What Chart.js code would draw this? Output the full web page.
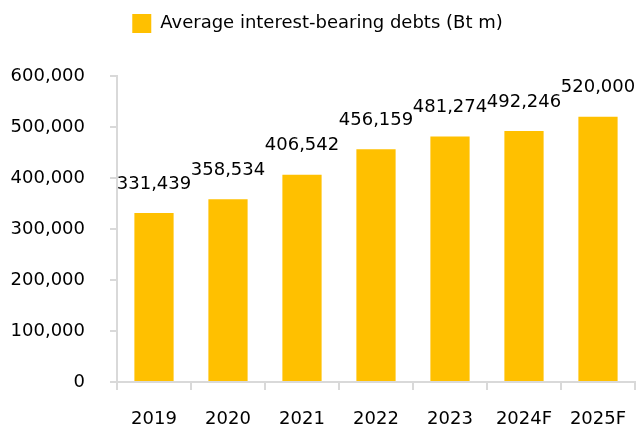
<!DOCTYPE html>
<html>
<head>
<meta charset="utf-8">
<script src="https://cdn.jsdelivr.net/npm/chart.js@4"></script>
<style>
  body { margin: 0; background: #fff; }
  #wrap { width: 642px; height: 430px; }
</style>
</head>
<body>
<div id="wrap"><canvas id="debtChart" width="642" height="430"></canvas></div>
<script>
// chart data
const years = ['2019', '2020', '2021', '2022', '2023', '2024F', '2025F'];
const avgDebts = [331439, 358534, 406542, 456159, 481274, 492246, 520000];
const seriesName = 'Average interest-bearing debts (Bt m)';
const yTicks = [0, 100000, 200000, 300000, 400000, 500000, 600000];

const fontFamily = "'DejaVu Sans', sans-serif";
const axisGray = '#d9d9d9';

// push the plot area down below the legend
const legendGap = {
    id: 'legendGap',
    beforeInit(chart) {
        const fit = chart.legend.fit;
        chart.legend.fit = function () {
            fit.call(this);
            this.height = 76;
        };
    }
};

// value labels above each bar
const barLabels = {
    id: 'barLabels',
    afterDatasetsDraw(chart) {
        const ctx = chart.ctx;
        const meta = chart.getDatasetMeta(0);
        ctx.save();
        ctx.font = '18px ' + fontFamily;
        ctx.fillStyle = '#000';
        ctx.textAlign = 'center';
        ctx.textBaseline = 'middle';
        meta.data.forEach((bar, i) => {
            ctx.fillText(avgDebts[i].toLocaleString('en-US'), bar.x, bar.y - 29);
        });
        ctx.restore();
    }
};

new Chart(document.getElementById('debtChart'), {
    type: 'bar',
    data: {
        labels: years,
        datasets: [{
            label: seriesName,
            data: avgDebts,
            backgroundColor: '#FFC000',
            barPercentage: 0.53,
            categoryPercentage: 1
        }]
    },
    options: {
        responsive: false,
        animation: false,
        layout: { padding: { left: 0, right: 7, top: 0, bottom: 0 } },
        scales: {
            x: {
                grid: {
                    display: true,
                    drawOnChartArea: false,
                    drawTicks: true,
                    tickLength: 8,
                    color: axisGray,
                    lineWidth: 2,
                    offset: true
                },
                border: { display: true, color: axisGray, width: 2 },
                ticks: {
                    color: '#000',
                    font: { family: fontFamily, size: 18 },
                    padding: 19,
                    maxRotation: 0
                },
                afterFit(axis) {
                    axis.height = 48;
                    axis.paddingLeft = 0;
                    axis.paddingRight = 0;
                }
            },
            y: {
                min: 0,
                max: 600000,
                afterBuildTicks(axis) { axis.ticks = yTicks.map(v => ({ value: v })); },
                grid: {
                    display: true,
                    drawOnChartArea: false,
                    drawTicks: true,
                    tickLength: 7,
                    color: axisGray,
                    lineWidth: 2
                },
                border: { display: true, color: axisGray, width: 2 },
                ticks: {
                    color: '#000',
                    font: { family: fontFamily, size: 18 },
                    padding: 25,
                    callback: v => v.toLocaleString('en-US')
                },
                afterFit(axis) { axis.width = 117; }
            }
        },
        plugins: {
            legend: {
                position: 'top',
                labels: {
                    color: '#000',
                    font: { family: fontFamily, size: 18 },
                    boxWidth: 19,
                    boxHeight: 19,
                    padding: 14
                }
            },
            tooltip: { enabled: false }
        }
    },
    plugins: [legendGap, barLabels]
});
</script>
</body>
</html>
